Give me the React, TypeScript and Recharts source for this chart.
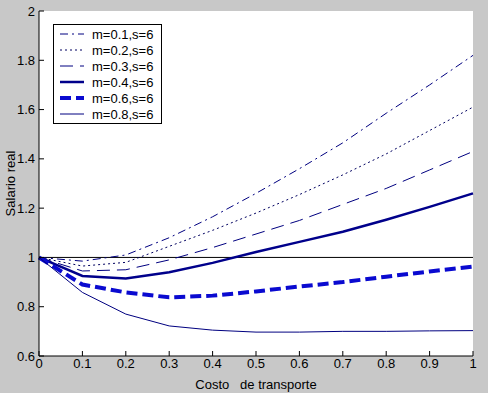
import React from 'react';
import { LineChart, Line, XAxis, YAxis, ReferenceLine, Legend, CartesianGrid } from 'recharts';

const costs = [0, 0.1, 0.2, 0.3, 0.4, 0.5, 0.6, 0.7, 0.8, 0.9, 1];

const m01 = [1, 0.985, 1.01, 1.08, 1.165, 1.26, 1.36, 1.465, 1.585, 1.7, 1.82];
const m02 = [1, 0.965, 0.98, 1.045, 1.11, 1.18, 1.255, 1.335, 1.42, 1.515, 1.61];
const m03 = [1, 0.945, 0.95, 0.99, 1.04, 1.095, 1.15, 1.215, 1.28, 1.355, 1.43];
const m04 = [1, 0.925, 0.915, 0.94, 0.978, 1.022, 1.063, 1.104, 1.153, 1.205, 1.26];
const m06 = [1, 0.89, 0.858, 0.838, 0.845, 0.862, 0.882, 0.9, 0.922, 0.943, 0.963];
const m08 = [1, 0.858, 0.77, 0.722, 0.705, 0.697, 0.697, 0.7, 0.7, 0.702, 0.703];

const xTicks = [0, 0.1, 0.2, 0.3, 0.4, 0.5, 0.6, 0.7, 0.8, 0.9, 1];
const yTicks = [0.6, 0.8, 1, 1.2, 1.4, 1.6, 1.8, 2];

const data = costs.map((x, i) => ({
    x,
    m01: m01[i],
    m02: m02[i],
    m03: m03[i],
    m04: m04[i],
    m06: m06[i],
    m08: m08[i]
}));

const series = [
    { key: 'm01', name: 'm=0.1,s=6', color: '#000080', width: 1, dash: '8 4 2 4' },
    { key: 'm02', name: 'm=0.2,s=6', color: '#000060', width: 1, dash: '2 3' },
    { key: 'm03', name: 'm=0.3,s=6', color: '#000080', width: 1, dash: '13 7' },
    { key: 'm04', name: 'm=0.4,s=6', color: '#00008b', width: 2.5, dash: undefined },
    { key: 'm06', name: 'm=0.6,s=6', color: '#0a0ad0', width: 4, dash: '11 5' },
    { key: 'm08', name: 'm=0.8,s=6', color: '#000080', width: 1, dash: undefined }
];

const FONT = '"Liberation Sans", Arial, sans-serif';
const TICK_LEN = 5;
const X_MARGIN = 3;
const Y_MARGIN = 4;

const fmt = (v: number) => String(Math.round(v * 10) / 10);

const BottomTick = (props: any) => {
    const { x, y, payload } = props;
    const axisY = y - X_MARGIN;
    return (
        <g>
            <line x1={x} y1={axisY} x2={x} y2={axisY - TICK_LEN} stroke="#000" />
            <text x={x} y={y} dy="0.71em" textAnchor="middle" fontSize={13} fontFamily={FONT} fill="#000">
                {fmt(payload.value)}
            </text>
        </g>
    );
};

const LeftTick = (props: any) => {
    const { x, y, payload } = props;
    const axisX = x + Y_MARGIN;
    return (
        <g>
            <line x1={axisX} y1={y} x2={axisX + TICK_LEN} y2={y} stroke="#000" />
            <text x={x} y={y} dy="0.355em" textAnchor="end" fontSize={13} fontFamily={FONT} fill="#000">
                {fmt(payload.value)}
            </text>
        </g>
    );
};

const TopTick = (props: any) => {
    const { x, y } = props;
    return <line x1={x} y1={y} x2={x} y2={y + TICK_LEN} stroke="#000" />;
};

const RightTick = (props: any) => {
    const { x, y } = props;
    return <line x1={x} y1={y} x2={x - TICK_LEN} y2={y} stroke="#000" />;
};

const renderLegend = () => (
    <div style={{ border: '1px solid #000', background: '#fff', padding: '1px 8px 1px 0', fontFamily: FONT, fontSize: 13 }}>
        {series.map(s => (
            <div key={s.key} style={{ display: 'flex', alignItems: 'center', height: 16 }}>
                <svg width={24} height={16} style={{ marginLeft: 6 }}>
                    <line x1={0} y1={8} x2={24} y2={8} stroke={s.color} strokeWidth={s.width} strokeDasharray={s.dash} />
                </svg>
                <span style={{ marginLeft: 8, color: '#000', whiteSpace: 'nowrap' }}>{s.name}</span>
            </div>
        ))}
    </div>
);

const App = () => (
    <div style={{ position: 'absolute', left: 0, top: 0, width: 493, height: 398, background: '#fff' }}>
        <div style={{ width: 488, height: 393, background: '#c8c8c8' }}>
            <LineChart width={488} height={393} data={data} margin={{ top: 11, right: 15, bottom: 0, left: 0 }}>
                <CartesianGrid fill="#fff" horizontal={false} vertical={false} />
                <XAxis
                    dataKey="x"
                    type="number"
                    domain={[0, 1]}
                    ticks={xTicks}
                    height={37}
                    tickSize={0}
                    tickMargin={X_MARGIN}
                    tick={<BottomTick />}
                    axisLine={{ stroke: '#000' }}
                    label={(p: any) => (
                        <text
                            x={p.viewBox.x + p.viewBox.width / 2}
                            y={p.viewBox.y + 33}
                            textAnchor="middle"
                            fontSize={13}
                            fontFamily={FONT}
                            fill="#000"
                            style={{ whiteSpace: 'pre' }}
                        >
                            {'Costo   de transporte'}
                        </text>
                    )}
                />
                <XAxis
                    xAxisId="top"
                    orientation="top"
                    dataKey="x"
                    type="number"
                    domain={[0, 1]}
                    ticks={xTicks}
                    height={0}
                    tickSize={0}
                    tickMargin={0}
                    tick={<TopTick />}
                    axisLine={{ stroke: '#000' }}
                />
                <YAxis
                    type="number"
                    domain={[0.6, 2]}
                    ticks={yTicks}
                    width={39}
                    tickSize={0}
                    tickMargin={Y_MARGIN}
                    tick={<LeftTick />}
                    axisLine={{ stroke: '#000' }}
                    label={(p: any) => (
                        <text
                            x={p.viewBox.x + 15}
                            y={p.viewBox.y + p.viewBox.height / 2}
                            transform={`rotate(-90 ${p.viewBox.x + 15} ${p.viewBox.y + p.viewBox.height / 2})`}
                            textAnchor="middle"
                            fontSize={13}
                            fontFamily={FONT}
                            fill="#000"
                        >
                            Salario real
                        </text>
                    )}
                />
                <YAxis
                    yAxisId="right"
                    orientation="right"
                    type="number"
                    domain={[0.6, 2]}
                    ticks={yTicks}
                    width={0}
                    tickSize={0}
                    tickMargin={0}
                    tick={<RightTick />}
                    axisLine={{ stroke: '#000' }}
                />
                <ReferenceLine y={1} stroke="#000" strokeWidth={1} />
                {series.map(s => (
                    <Line
                        key={s.key}
                        type="linear"
                        dataKey={s.key}
                        name={s.name}
                        stroke={s.color}
                        strokeWidth={s.width}
                        strokeDasharray={s.dash}
                        dot={false}
                        activeDot={false}
                        isAnimationActive={false}
                    />
                ))}
                <Legend
                    layout="vertical"
                    align="center"
                    verticalAlign="middle"
                    content={renderLegend}
                    wrapperStyle={{ left: 53, top: 24, width: 'auto' }}
                />
            </LineChart>
        </div>
    </div>
);

export default App;
